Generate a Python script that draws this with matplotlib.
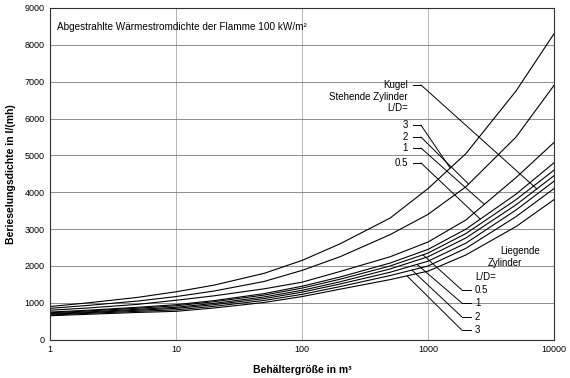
import numpy as np
import matplotlib.pyplot as plt

plt.rcParams['font.family'] = ['Liberation Sans', 'DejaVu Sans']

# Behältergröße in m³
groesse = [1, 2, 5, 10, 20, 50, 100, 200, 500, 1000, 2000, 5000, 10000]

# Berieselungsdichte in l/(mh)
stehend_3 = [900, 1000, 1150, 1300, 1480, 1800, 2150, 2600, 3300, 4100, 5050, 6750, 8300]
stehend_2 = [850, 930, 1050, 1170, 1320, 1580, 1880, 2250, 2850, 3400, 4150, 5500, 6900]
stehend_1 = [800, 860, 960, 1070, 1190, 1380, 1560, 1850, 2250, 2650, 3250, 4400, 5350]
stehend_05 = [750, 800, 880, 950, 1060, 1250, 1450, 1700, 2080, 2450, 3000, 3950, 4800]
liegend_05 = [730, 780, 855, 920, 1030, 1210, 1400, 1640, 2000, 2350, 2880, 3800, 4600]
kugel = [710, 755, 825, 880, 985, 1160, 1340, 1570, 1920, 2250, 2760, 3660, 4450]
liegend_1 = [690, 735, 800, 850, 950, 1115, 1290, 1510, 1830, 2130, 2620, 3520, 4300]
liegend_2 = [670, 715, 770, 810, 905, 1065, 1230, 1440, 1740, 2000, 2480, 3340, 4100]
liegend_3 = [650, 690, 740, 770, 860, 1010, 1170, 1370, 1630, 1860, 2300, 3070, 3800]

kurven = [stehend_3, stehend_2, stehend_1, stehend_05, liegend_05,
          kugel, liegend_1, liegend_2, liegend_3]

fig = plt.figure(figsize=(5.7, 3.78), dpi=100)
ax = fig.add_axes([50 / 570, 1 - 339.7 / 378, 504 / 570, 331.7 / 378])

for k in kurven:
    ax.plot(groesse, k, color='black', lw=0.8)

ax.set_xscale('log')
ax.set_xlim(1, 10000)
ax.set_ylim(0, 9000)
ax.set_yticks(range(0, 9001, 1000))
ax.set_xticks([1, 10, 100, 1000, 10000])
ax.set_xticklabels(['1', '10', '100', '1000', '10000'])
ax.minorticks_off()
ax.tick_params(length=0, labelsize=6.5, pad=4)
ax.grid(True, axis='y', color='#7a7a7a', lw=0.6)
ax.grid(True, axis='x', color='#a8a8a8', lw=0.6)
for s in ax.spines.values():
    s.set_linewidth(0.8)
    s.set_color('#303030')

ax.set_xlabel('Behältergröße in m³', fontsize=7.5, fontweight='bold', labelpad=8)
ax.set_ylabel('Berieselungsdichte in l/(mh)', fontsize=7.5, fontweight='bold', labelpad=6)

ax.text(0.014, 0.943, 'Abgestrahlte Wärmestromdichte der Flamme 100 kW/m²',
        transform=ax.transAxes, fontsize=7.2, va='center', ha='left')


def leader(start, knee, kurve, x_end):
    y_end = np.interp(np.log10(x_end), np.log10(groesse), kurve)
    ax.plot([start[0], knee[0]], [start[1], knee[1]], transform=ax.transAxes,
            color='black', lw=0.7)
    ax.annotate('', xy=(x_end, y_end), xycoords='data', xytext=knee,
                textcoords='axes fraction',
                arrowprops=dict(arrowstyle='-', lw=0.7, color='black',
                                shrinkA=0, shrinkB=0))


fs = 7
# Stehende Zylinder / Kugel
ax.text(0.710, 0.768, 'Kugel', transform=ax.transAxes, ha='right', va='center', fontsize=fs)
ax.text(0.710, 0.732, 'Stehende Zylinder', transform=ax.transAxes, ha='right', va='center', fontsize=fs)
ax.text(0.710, 0.698, 'L/D=', transform=ax.transAxes, ha='right', va='center', fontsize=fs)
stehend_lbl = [('3', 0.647, stehend_3, 1500), ('2', 0.611, stehend_2, 2100),
               ('1', 0.578, stehend_1, 2800), ('0.5', 0.533, stehend_05, 2600)]
leader((0.720, 0.768), (0.736, 0.768), kugel, 7300)
for t, y, k, xe in stehend_lbl:
    ax.text(0.710, y, t, transform=ax.transAxes, ha='right', va='center', fontsize=fs)
    leader((0.720, y), (0.736, y), k, xe)

# Liegende Zylinder
ax.text(0.893, 0.267, 'Liegende', transform=ax.transAxes, ha='left', va='center', fontsize=fs)
ax.text(0.869, 0.231, 'Zylinder', transform=ax.transAxes, ha='left', va='center', fontsize=fs)
ax.text(0.843, 0.189, 'L/D=', transform=ax.transAxes, ha='left', va='center', fontsize=fs)
liegend_lbl = [('0.5', 0.150, liegend_05, 912), ('1', 0.111, liegend_1, 818),
               ('2', 0.069, liegend_2, 746), ('3', 0.029, liegend_3, 681)]
for t, y, k, xe in liegend_lbl:
    ax.text(0.843, y, t, transform=ax.transAxes, ha='left', va='center', fontsize=fs)
    leader((0.835, y), (0.817, y), k, xe)

fig.savefig('out.png', dpi=100)
